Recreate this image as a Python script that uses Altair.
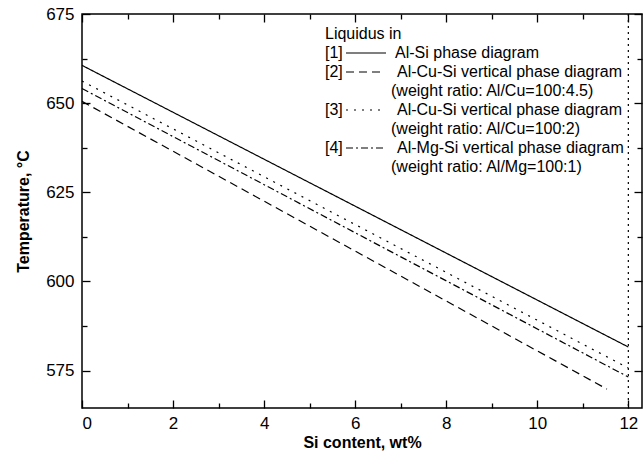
import altair as alt
import pandas as pd

# Liquidus lines: start / end points (Si wt%, temperature in °C)
series = ["[1]", "[2]", "[3]", "[4]"]
si_start = [0.0, 0.0, 0.0, 0.0]
si_end = [12.0, 11.53, 12.0, 12.0]
t_start = [660.6, 650.5, 656.2, 654.1]
t_end = [581.6, 569.8, 575.7, 573.2]

legend_title = "Liquidus in"
legend_main = [
    "Al-Si phase diagram",
    "Al-Cu-Si vertical phase diagram",
    "Al-Cu-Si vertical phase diagram",
    "Al-Mg-Si vertical phase diagram",
]
legend_sub = [
    None,
    "(weight ratio: Al/Cu=100:4.5)",
    "(weight ratio: Al/Cu=100:2)",
    "(weight ratio: Al/Mg=100:1)",
]

x_major = [0, 2, 4, 6, 8, 10, 12]
x_minor = [1, 3, 5, 7, 9, 11]
y_major = [575, 600, 625, 650, 675]
y_minor = [587.5, 612.5, 637.5, 662.5]
eutectic_si = [12]

W, H = 560, 394
FONT = "Liberation Sans"
dashes = [[1, 0], [8, 5], [2, 6], [7, 3, 2, 3]]
MAJ, MIN = 8, 5   # inward tick lengths

rows = []
for s, x0, x1, y0, y1 in zip(series, si_start, si_end, t_start, t_end):
    rows.append({"series": s, "si": x0, "temp": y0})
    rows.append({"series": s, "si": x1, "temp": y1})
lines_df = pd.DataFrame(rows)

xscale = alt.Scale(domain=[0, 12.3], nice=False, zero=False)
yscale = alt.Scale(domain=[564.5, 675], nice=False, zero=False)

# labelled axes; a negative offset pulls the ticks inside the frame
x_axis = alt.Axis(orient="bottom", values=x_major, tickSize=MAJ, offset=-MAJ,
                  tickColor="black", tickWidth=1.3, domain=False, grid=False,
                  labelFontSize=17, labelFont=FONT, labelPadding=7,
                  labelColor="black", title="Si content, wt%",
                  titleFont=FONT, titleFontSize=16, titleFontWeight="bold",
                  titleColor="black", titlePadding=3)
y_axis = alt.Axis(orient="left", values=y_major, tickSize=MAJ, offset=-MAJ,
                  tickColor="black", tickWidth=1.3, domain=False, grid=False,
                  labelFontSize=17, labelFont=FONT, labelPadding=8,
                  labelColor="black", title="Temperature, °C",
                  titleFont=FONT, titleFontSize=16, titleFontWeight="bold",
                  titleColor="black", titlePadding=14)

lines = alt.Chart(lines_df).mark_line(color="black", strokeWidth=1.2).encode(
    x=alt.X("si:Q", scale=xscale, axis=x_axis),
    y=alt.Y("temp:Q", scale=yscale, axis=y_axis),
    strokeDash=alt.StrokeDash("series:N",
                              scale=alt.Scale(domain=series, range=dashes),
                              legend=None),
    detail="series:N",
)

# vertical dotted line at the eutectic composition
eut = alt.Chart(pd.DataFrame({"si": eutectic_si})).mark_rule(
    color="black", strokeWidth=1.2, strokeDash=[2, 4]
).encode(x=alt.X("si:Q", scale=xscale, axis=None), y=alt.value(0), y2=alt.value(H))


# extra unlabelled tick-only axes (minor ticks, top and right sides)
def tick_axis(channel, vals, orient, size):
    ax = alt.Axis(orient=orient, values=vals, tickSize=size, offset=-size,
                  tickColor="black", tickWidth=1.3, labels=False,
                  domain=False, grid=False, title=None)
    df = pd.DataFrame({"v": vals})
    if channel == "x":
        enc = {"x": alt.X("v:Q", scale=xscale, axis=ax)}
    else:
        enc = {"y": alt.Y("v:Q", scale=yscale, axis=ax)}
    return alt.Chart(df).mark_point(opacity=0).encode(**enc)


tick_layers = [
    tick_axis("x", x_minor, "bottom", MIN),
    tick_axis("x", x_major, "top", MAJ),
    tick_axis("x", x_minor, "top", MIN),
    tick_axis("y", y_minor, "left", MIN),
    tick_axis("y", y_major, "right", MAJ),
    tick_axis("y", y_minor, "right", MIN),
]

# legend block drawn in pixel space, upper right
LX = 243       # left of "[n]" label, relative to plot area
ROW = 19
Y0 = 20
one = pd.DataFrame({"k": [0]})


def text_at(txt, x, y):
    return alt.Chart(one).mark_text(
        align="left", baseline="middle", font=FONT, fontSize=16, color="black"
    ).encode(x=alt.value(x), y=alt.value(y), text=alt.value(txt))


legend = [text_at(legend_title, LX, Y0)]
seg_ends = [304, 300, 301, 301]
row = 1
for i, s in enumerate(series):
    y = Y0 + row * ROW
    legend.append(text_at(s, LX, y))
    legend.append(alt.Chart(one).mark_rule(
        color="black", strokeWidth=1.2, strokeDash=dashes[i]
    ).encode(x=alt.value(LX + 21), x2=alt.value(seg_ends[i]),
             y=alt.value(y)))
    legend.append(text_at(legend_main[i], 313 if i == 0 else 315, y))
    row += 1
    if legend_sub[i]:
        legend.append(text_at(legend_sub[i], 309, Y0 + row * ROW))
        row += 1

chart = alt.layer(lines, eut, *tick_layers, *legend).resolve_scale(
    x="shared", y="shared"
).resolve_axis(
    x="independent", y="independent"
).properties(
    width=W, height=H,
    background="white",
    autosize=alt.AutoSizeParams(type="none"),
    padding={"left": 82, "top": 14, "right": 2, "bottom": 46},
).configure_view(stroke="black", strokeWidth=1.5)

chart.save("out.html", embed_options={"renderer": "svg", "actions": False})
